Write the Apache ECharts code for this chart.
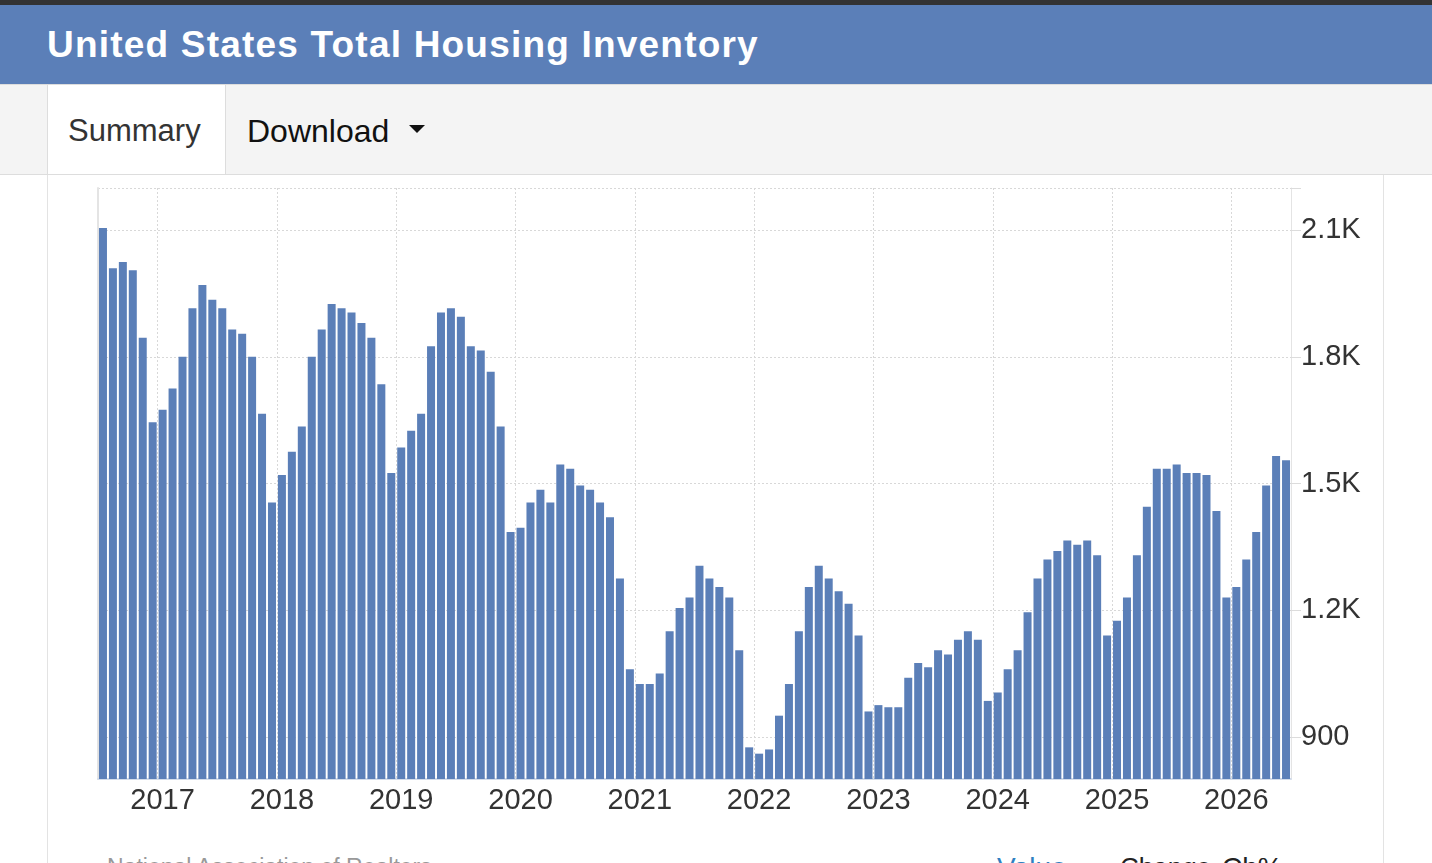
<!DOCTYPE html>
<html>
<head>
<meta charset="utf-8">
<title>United States Total Housing Inventory</title>
<script src="https://cdn.jsdelivr.net/npm/echarts@6/dist/echarts.min.js"></script>
<style>
  html, body { margin: 0; padding: 0; }
  body { width: 1432px; height: 863px; overflow: hidden; position: relative; background: #fff;
         font-family: "Liberation Sans", Arial, sans-serif; }
  .topbar { position: absolute; left: 0; top: 0; width: 1432px; height: 5px; background: #333; }
  .header { position: absolute; left: 0; top: 5px; width: 1432px; height: 79px; background: #5b7fb8; }
  .title { position: absolute; left: 47px; top: 21px; font-size: 37px; line-height: 1; font-weight: bold;
           letter-spacing: 1.2px; color: #fff; white-space: nowrap; }
  .tabs { position: absolute; left: 0; top: 84px; width: 1432px; height: 89px; background: #f4f4f4;
          border-top: 1px solid #ddd; border-bottom: 1px solid #ddd; }
  .tab-on { position: absolute; left: 47px; top: 85px; width: 177px; height: 89px; background: #fff;
            border-left: 1px solid #ddd; border-right: 1px solid #ddd; }
  .tabtxt { position: absolute; top: 115px; font-size: 31px; line-height: 1; white-space: nowrap; }
  .caret { position: absolute; left: 409px; top: 125px; width: 0; height: 0;
           border-left: 8px solid transparent; border-right: 8px solid transparent; border-top: 8px solid #111; }
  .panel { position: absolute; left: 47px; top: 175px; width: 1335px; height: 700px;
           border-left: 1px solid #e3e3e3; border-right: 1px solid #e3e3e3; }
  .foot { position: absolute; top: 854px; font-size: 28px; line-height: 1; white-space: nowrap; }
  #chart { position: absolute; left: 0; top: 0; width: 1432px; height: 863px; }
</style>
</head>
<body>
<div class="topbar"></div>
<div class="header"><div class="title">United States Total Housing Inventory</div></div>
<div class="tabs"></div>
<div class="tab-on"></div>
<div class="tabtxt" style="left:68px;color:#333;">Summary</div>
<div class="tabtxt" style="left:247px;color:#111;font-size:32px;">Download</div>
<div class="caret"></div>
<div class="panel"></div>
<div class="foot" style="left:107px;color:#999;font-size:23px;top:856px;">National Association of Realtors</div>
<div class="foot" style="left:997px;color:#2f7fc1;">Value</div>
<div class="foot" style="left:1120px;color:#222;font-size:26px;">Change</div>
<div class="foot" style="left:1222px;color:#222;">Ch%</div>
<div id="chart"></div>
<script>
// 数据从 2016年7月 开始，每月一个值（千套）
var startYear = 2016, startMonth = 7;
var inventory = [
  2105, 2010, 2025, 2005, 1845, 1645,                                // 2016 7-12月
  1675, 1725, 1800, 1915, 1970, 1935, 1915, 1865, 1855, 1800, 1665, 1455, // 2017
  1520, 1575, 1635, 1800, 1865, 1925, 1915, 1905, 1880, 1845, 1735, 1525, // 2018
  1585, 1625, 1665, 1825, 1905, 1915, 1895, 1825, 1815, 1765, 1635, 1385, // 2019
  1395, 1455, 1485, 1455, 1545, 1535, 1495, 1485, 1455, 1420, 1275, 1060, // 2020
  1025, 1025, 1050, 1150, 1205, 1230, 1305, 1275, 1255, 1230, 1105, 875,  // 2021
  860, 870, 950, 1025, 1150, 1255, 1305, 1275, 1245, 1215, 1140, 960,     // 2022
  975, 970, 970, 1040, 1075, 1065, 1105, 1095, 1130, 1150, 1130, 985,     // 2023
  1005, 1060, 1105, 1195, 1275, 1320, 1340, 1365, 1355, 1365, 1330, 1140, // 2024
  1175, 1230, 1330, 1445, 1535, 1535, 1545, 1525, 1525, 1520, 1435, 1230, // 2025
  1255, 1320, 1385, 1495, 1565, 1555                                 // 2026 1-6月
];
var yLabelTicks = [900, 1200, 1500, 1800, 2100];
var yGridTicks = [900, 1200, 1500, 1800, 2100, 2200];

// 月份类目
var months = [];
for (var i = 0; i < inventory.length; i++) {
  var m = startMonth - 1 + i;
  var y = startYear + Math.floor(m / 12);
  var mm = (m % 12) + 1;
  months.push(y + '-' + (mm < 10 ? '0' + mm : mm));
}
function isJan(idx, val) { return val.slice(5) === '01'; }

var fontFam = '"Liberation Sans", Arial, sans-serif';
var myChart = echarts.init(document.getElementById('chart'));
var option = {
  animation: false,
  backgroundColor: 'transparent',
  grid: { left: 98, top: 188, right: 141, bottom: 84, containLabel: false },
  xAxis: {
    type: 'category',
    data: months,
    boundaryGap: true,
    axisLine: { show: true, lineStyle: { color: '#d3dcea', width: 2 } },
    axisTick: { show: false },
    axisLabel: {
      interval: isJan,
      formatter: function (v) { return v.slice(0, 4); },
      fontSize: 29, color: '#333', fontFamily: fontFam, margin: 7
    },
    splitLine: { show: true, interval: isJan, lineStyle: { color: '#d8d8d8', type: [2, 2], width: 1 } }
  },
  yAxis: [
    {
      type: 'value', position: 'right', min: 800, max: 2200,
      axisLine: { show: true, lineStyle: { color: '#e4e4e4', width: 1 } },
      axisTick: { show: true, length: 10, customValues: yGridTicks, lineStyle: { color: '#dcdcdc' } },
      axisLabel: {
        customValues: yLabelTicks, margin: 10, fontSize: 29, color: '#333', fontFamily: fontFam,
        padding: [0, 0, 8, 0],
        formatter: function (v) { return v >= 1000 ? (v / 1000) + 'K' : String(v); }
      },
      splitLine: { show: true, lineStyle: { color: '#d8d8d8', type: [2, 2], width: 1 } }
    },
    {
      type: 'value', position: 'left', min: 800, max: 2200,
      axisLine: { show: true, lineStyle: { color: '#e4e4e4', width: 2 } },
      axisTick: { show: false }, axisLabel: { show: false }, splitLine: { show: false }
    }
  ],
  series: [{
    name: 'Housing Inventory',
    type: 'bar',
    data: inventory,
    barWidth: 8,
    itemStyle: { color: '#5b7fb8' }
  }]
};
myChart.setOption(option);
</script>
</body>
</html>
